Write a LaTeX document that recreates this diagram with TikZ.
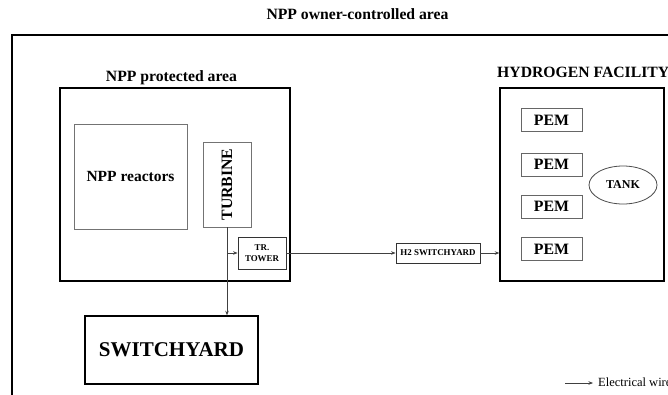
\documentclass[tikz,border=0pt]{standalone}
\usepackage{fontspec}
\setmainfont{Liberation Serif}
\usetikzlibrary{arrows.meta,shapes.geometric}
\begin{document}
\begin{tikzpicture}[x=1pt,y=-1pt,
  lbl/.style={font=\bfseries\fontsize{15.7}{17}\selectfont, inner sep=0pt, anchor=base},
  graybox/.style={draw=black!55, line width=0.9pt, inner sep=0pt},
  pembox/.style={draw=black!60, line width=0.9pt, minimum width=61pt, minimum height=23pt, inner sep=0pt, font=\bfseries\fontsize{15.8}{17}\selectfont},
  smallbox/.style={draw=black!80, line width=0.8pt, inner sep=0pt, align=center, font=\bfseries\fontsize{8.9}{10.5}\selectfont},
  wire/.style={draw=black!75, line width=0.7pt, -{Stealth[length=4.5pt,width=3.5pt]}}
]
\useasboundingbox (0,0) rectangle (668,394);
\clip (0,0) rectangle (668,394);
\fill[white] (0,0) rectangle (668,394);
% outer area
\draw[line width=1.4pt] (12,35) rectangle (720,430);
\node[lbl] (title) at (357.5,19) {NPP owner-controlled area};
% protected area
\draw[line width=1.2pt] (60,88) rectangle (290,281);
\node[lbl] (protl) at (171.5,81) {NPP protected area};
\node[graybox, minimum width=113pt, minimum height=105pt, font=\bfseries\fontsize{15.5}{17}\selectfont] (react) at (130.5,176.5) {NPP reactors};
\node[graybox, minimum width=48pt, minimum height=85pt] (turb) at (227,184.5) {};
\node[font=\bfseries\fontsize{15.8}{17}\selectfont, rotate=90, inner sep=0pt] (turbt) at (turb.center) {TURBINE};
\node[smallbox, minimum width=48pt, minimum height=32pt] (tower) at (262,253) {TR.\\TOWER};
% switchyard
\node[draw, line width=1.4pt, minimum width=173pt, minimum height=68pt, inner sep=0pt, font=\bfseries\fontsize{21}{24}\selectfont] (sw) at (171.5,350) {SWITCHYARD};
% H2 switchyard
\node[smallbox, minimum width=84pt, minimum height=20pt] (h2) at (438,253) {H2 SWITCHYARD};
% hydrogen facility
\node[draw, line width=1.4pt, minimum width=164pt, minimum height=193pt, inner sep=0pt] (hyd) at (582,184.5) {};
\node[lbl, anchor=base west] (hydl) at (497,77) {HYDROGEN FACILITY};
\node[pembox] (pem1) at (551.5,120) {PEM};
\node[pembox] (pem2) at (551.5,164.5) {PEM};
\node[pembox] (pem3) at (551.5,206.5) {PEM};
\node[pembox] (pem4) at (551.5,249) {PEM};
\node[ellipse, draw=black!70, line width=0.8pt, minimum width=68pt, minimum height=38pt, inner sep=0pt, font=\bfseries\fontsize{12}{14}\selectfont] (tank) at (623,185) {TANK};
% connectors
\coordinate (br) at (turb.south |- tower.west);
\draw[wire] (turb.south) -- (sw.north -| turb.south);
\draw[wire] (br) -- (tower.west);
\draw[wire] (tower.east) -- (h2.west);
\draw[wire] (h2.east) -- (h2.east -| hyd.west);
% legend
\coordinate (lg1) at (565,383);
\coordinate (lg2) at (593,383);
\draw[wire] (lg1) -- (lg2);
\node[font=\fontsize{12.5}{14}\selectfont, inner sep=0pt, anchor=base west] (lgt) at (598,386.5) {Electrical wire};
\end{tikzpicture}
\end{document}
